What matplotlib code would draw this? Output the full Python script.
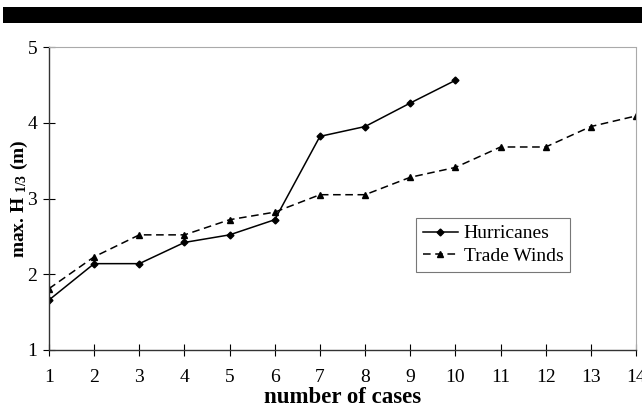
import matplotlib
matplotlib.use("Agg")
import matplotlib.pyplot as plt
from matplotlib.patches import Rectangle

cases_h = [1, 2, 3, 4, 5, 6, 7, 8, 9, 10]
hurricanes = [1.66, 2.14, 2.14, 2.42, 2.52, 2.72, 3.82, 3.95, 4.26, 4.56]
cases_t = [1, 2, 3, 4, 5, 6, 7, 8, 9, 10, 11, 12, 13, 14]
trade_winds = [1.81, 2.23, 2.52, 2.52, 2.72, 2.82, 3.05, 3.05, 3.28, 3.41, 3.68, 3.68, 3.95, 4.09]
xticks = list(range(1, 15))
yticks = [1, 2, 3, 4, 5]

plt.rcParams['font.family'] = ['Liberation Serif', 'DejaVu Serif']
plt.rcParams['mathtext.fontset'] = 'custom'
plt.rcParams['mathtext.rm'] = 'Liberation Serif'
plt.rcParams['mathtext.bf'] = 'Liberation Serif:bold'
plt.rcParams['mathtext.default'] = 'regular'

fig = plt.figure(figsize=(6.42, 4.12), dpi=100)
fig.patches.append(Rectangle((3/642, 1 - 23/412), 639/642, 16/412,
                             transform=fig.transFigure, facecolor='black',
                             edgecolor='none'))
ax = fig.add_axes([49/642, 62/412, 587/642, 303/412])

ax.plot(cases_h, hurricanes, color='black', lw=1.1, marker='D', ms=3.5,
        label='Hurricanes')
ax.plot(cases_t, trade_winds, color='black', lw=1.1, ls=(0, (5, 3)),
        marker='^', ms=4, label='Trade Winds')

ax.set_xlim(1, 14)
ax.set_ylim(1, 5)
ax.set_xticks(xticks)
ax.set_yticks(yticks)
ax.tick_params(axis='both', direction='inout', length=9, width=0.8,
               labelsize=14)
ax.tick_params(axis='x', pad=9)
ax.tick_params(axis='y', pad=4)

for s in ['left', 'bottom']:
    ax.spines[s].set_color('#333333')
    ax.spines[s].set_linewidth(1.0)
for s in ['top', 'right']:
    ax.spines[s].set_color('#aaaaaa')
    ax.spines[s].set_linewidth(0.8)
    ax.spines[s].set_linestyle((0, (2, 1)))

ax.set_xlabel('number of cases', fontsize=16.5, fontweight='bold', labelpad=1)
ax.set_ylabel(r'max. H$_{\ 1/3}$ (m)', fontsize=14, fontweight='bold',
              labelpad=-2)

leg = ax.legend(loc='upper left', bbox_to_anchor=(0.625, 0.436), fontsize=14,
                frameon=True, fancybox=False, handlelength=1.8,
                borderpad=0.35, labelspacing=0.25, handletextpad=0.3,
                borderaxespad=0)
leg.get_frame().set_edgecolor('#555555')
leg.get_frame().set_linewidth(0.8)

fig.savefig('out.png', dpi=100)
